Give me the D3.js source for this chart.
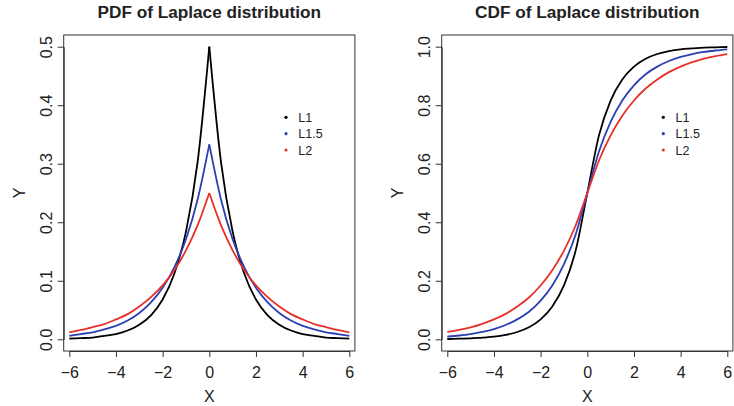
<!DOCTYPE html>
<html lang="en">
<head>
    <meta charset="UTF-8">
    <title>Laplace distribution PDF and CDF</title>
    <script src="https://d3js.org/d3.v7.min.js"></script>
    <style>
        body { margin: 0; background: #fff; }
        svg { display: block; font-family: 'Liberation Sans', Arial, Helvetica, sans-serif; }
    </style>
</head>
<body>
<div id="chart"></div>
<script>
    // x grid (step 0.5) shared by every curve
    var xVals = [-6, -5.5, -5, -4.5, -4, -3.5, -3, -2.5, -2, -1.5, -1, -0.5, 0,
                 0.5, 1, 1.5, 2, 2.5, 3, 3.5, 4, 4.5, 5, 5.5, 6];

    // PDF values
    var pdfL1  = [0.001, 0.002, 0.003, 0.006, 0.009, 0.015, 0.025, 0.041, 0.068, 0.112, 0.184, 0.303, 0.500,
                  0.303, 0.184, 0.112, 0.068, 0.041, 0.025, 0.015, 0.009, 0.006, 0.003, 0.002, 0.001];
    var pdfL15 = [0.006, 0.009, 0.012, 0.017, 0.023, 0.032, 0.045, 0.063, 0.088, 0.123, 0.171, 0.239, 0.333,
                  0.239, 0.171, 0.123, 0.088, 0.063, 0.045, 0.032, 0.023, 0.017, 0.012, 0.009, 0.006];
    var pdfL2  = [0.012, 0.016, 0.021, 0.026, 0.034, 0.043, 0.056, 0.072, 0.092, 0.118, 0.152, 0.195, 0.250,
                  0.195, 0.152, 0.118, 0.092, 0.072, 0.056, 0.043, 0.034, 0.026, 0.021, 0.016, 0.012];

    // CDF values
    var cdfL1  = [0.001, 0.002, 0.003, 0.006, 0.009, 0.015, 0.025, 0.041, 0.068, 0.112, 0.184, 0.303, 0.500,
                  0.697, 0.816, 0.888, 0.932, 0.959, 0.975, 0.985, 0.991, 0.994, 0.997, 0.998, 0.999];
    var cdfL15 = [0.009, 0.013, 0.018, 0.025, 0.035, 0.049, 0.068, 0.094, 0.132, 0.184, 0.257, 0.358, 0.500,
                  0.642, 0.743, 0.816, 0.868, 0.906, 0.932, 0.951, 0.965, 0.975, 0.982, 0.987, 0.991];
    var cdfL2  = [0.025, 0.032, 0.041, 0.053, 0.068, 0.087, 0.112, 0.143, 0.184, 0.236, 0.303, 0.389, 0.500,
                  0.611, 0.697, 0.764, 0.816, 0.857, 0.888, 0.913, 0.932, 0.947, 0.959, 0.968, 0.975];

    var seriesNames = ['L1', 'L1.5', 'L2'];
    var seriesColors = ['#000000', '#2b3fb3', '#e8302a'];

    var xTicks = [-6, -4, -2, 0, 2, 4, 6];
    var pdfTicks = [0, 0.1, 0.2, 0.3, 0.4, 0.5];
    var cdfTicks = [0, 0.2, 0.4, 0.6, 0.8, 1.0];

    var svgwidth = 734;
    var svgheight = 406;
    var tickFont = '16px';

    var svg = d3.select('#chart')
                .append('svg')
                .attr('width', svgwidth)
                .attr('height', svgheight);

    svg.append('rect')
        .attr('width', svgwidth)
        .attr('height', svgheight)
        .attr('fill', '#fff');

    function drawPanel(opts) {
        var x_scale = d3.scaleLinear().domain([-6, 6]).range([opts.x0, opts.x1]);
        var y_scale = d3.scaleLinear().domain(opts.yDomain).range([339.3, 46.7]);
        // R style: 4% padding around the data range
        var boxL = x_scale(-6.24), boxR = x_scale(6.24);
        var yd = opts.yDomain[1] - opts.yDomain[0];
        var boxT = y_scale(opts.yDomain[1] + yd * 0.04), boxB = y_scale(opts.yDomain[0] - yd * 0.04);

        var g = svg.append('g');

        // plot box
        g.append('rect')
            .attr('x', boxL)
            .attr('y', boxT)
            .attr('width', boxR - boxL)
            .attr('height', boxB - boxT)
            .attr('fill', 'none')
            .attr('stroke', '#333')
            .attr('stroke-width', 1);

        // x axis
        var x_axis = d3.axisBottom(x_scale)
                        .tickValues(xTicks)
                        .tickSizeInner(6)
                        .tickSizeOuter(0);
        var gx = g.append('g')
            .attr('transform', 'translate(0,' + boxB + ')')
            .call(x_axis);
        gx.select('.domain').attr('stroke', '#333');
        gx.selectAll('line').attr('stroke', '#333');
        gx.selectAll('text')
            .attr('y', 27)
            .attr('dy', 0)
            .style('font-size', tickFont)
            .style('font-family', "'Liberation Sans', Arial, sans-serif")
            .attr('fill', '#222');

        // y axis, labels parallel to the axis
        var y_axis = d3.axisLeft(y_scale)
                        .tickValues(opts.yTicks)
                        .tickFormat(d3.format('.1f'))
                        .tickSizeInner(6)
                        .tickSizeOuter(0);
        var gy = g.append('g')
            .attr('transform', 'translate(' + boxL + ',0)')
            .call(y_axis);
        gy.select('.domain').attr('stroke', '#333');
        gy.selectAll('line').attr('stroke', '#333');
        gy.selectAll('text')
            .attr('transform', 'rotate(-90)')
            .attr('x', 0)
            .attr('y', -12)
            .attr('dy', 0)
            .attr('text-anchor', 'middle')
            .style('font-size', tickFont)
            .style('font-family', "'Liberation Sans', Arial, sans-serif")
            .attr('fill', '#222');

        // axis titles
        g.append('text')
            .attr('x', (boxL + boxR) / 2)
            .attr('y', 401.5)
            .attr('text-anchor', 'middle')
            .style('font-size', '16px')
            .attr('fill', '#222')
            .text('X');

        g.append('text')
            .attr('transform', 'translate(' + (boxL - 38.5) + ',' + ((boxT + boxB) / 2) + ') rotate(-90)')
            .attr('text-anchor', 'middle')
            .style('font-size', '16px')
            .attr('fill', '#222')
            .text('Y');

        // main title
        g.append('text')
            .attr('x', (boxL + boxR) / 2)
            .attr('y', 18.3)
            .attr('text-anchor', 'middle')
            .style('font-size', '17.2px')
            .style('font-weight', 'bold')
            .attr('fill', '#222')
            .text(opts.title);

        // curves
        opts.series.forEach(function(vals, i) {
            var pts = xVals.map(function(x, k) { return [x, vals[k]]; });
            var parts = opts.splitAtZero
                ? [pts.filter(function(p) { return p[0] <= 0; }), pts.filter(function(p) { return p[0] >= 0; })]
                : [pts];
            var line = d3.line()
                .x(function(d) { return x_scale(d[0]); })
                .y(function(d) { return y_scale(d[1]); })
                .curve(d3.curveMonotoneX);
            parts.forEach(function(part) {
                g.append('path')
                    .datum(part)
                    .attr('d', line)
                    .attr('fill', 'none')
                    .attr('stroke', seriesColors[i])
                    .attr('stroke-width', 1.8)
                    .attr('stroke-linejoin', 'round');
            });
        });

        // legend (R style, points + labels, no frame)
        var legend = g.selectAll('.legend')
            .data(seriesNames)
            .enter().append('g')
            .attr('class', 'legend')
            .attr('transform', function(d, i) {
                return 'translate(' + opts.legendX + ',' + (117.3 + i * 16.35) + ')';
            });
        legend.append('circle')
            .attr('r', 1.6)
            .attr('fill', function(d, i) { return seriesColors[i]; });
        legend.append('text')
            .attr('x', 12.3)
            .attr('y', 4.5)
            .style('font-size', '12.5px')
            .attr('fill', '#222')
            .text(function(d) { return d; });
    }

    drawPanel({
        x0: 69.3, x1: 349.3,
        yDomain: [0, 0.5],
        yTicks: pdfTicks,
        title: 'PDF of Laplace distribution',
        series: [pdfL1, pdfL15, pdfL2],
        splitAtZero: true,
        legendX: 286
    });

    drawPanel({
        x0: 447.3, x1: 727.3,
        yDomain: [0, 1],
        yTicks: cdfTicks,
        title: 'CDF of Laplace distribution',
        series: [cdfL1, cdfL15, cdfL2],
        splitAtZero: false,
        legendX: 663.3
    });
</script>
</body>
</html>
